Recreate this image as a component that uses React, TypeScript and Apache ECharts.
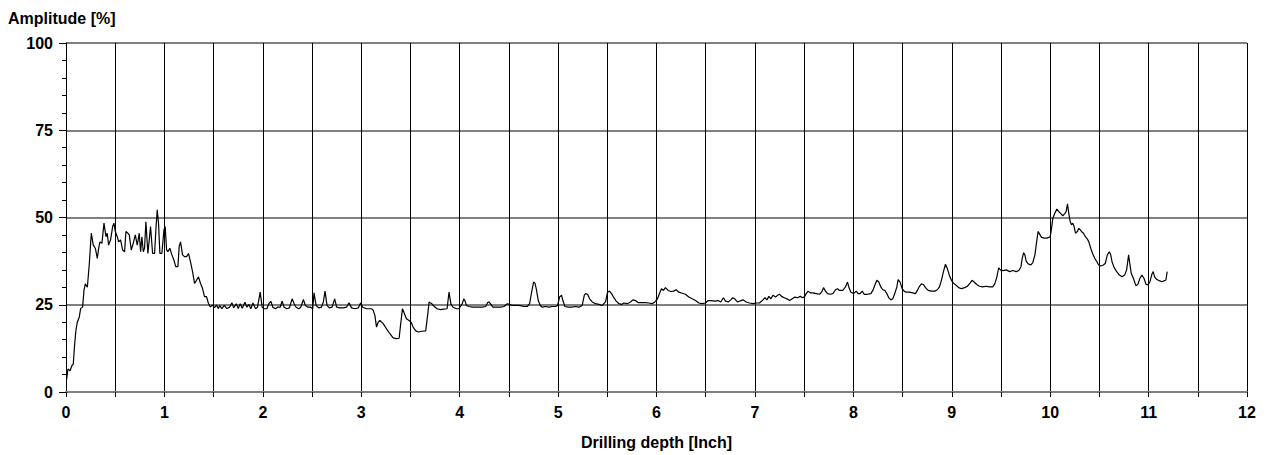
import React, { useEffect, useRef } from "react";
import * as echarts from "echarts";

// Amplitude [%] vs drilling depth [Inch]
const segStart: [number, number][] = [
  [0.007, 3.7], [0.02, 6.6], [0.041, 6.1], [0.061, 7.6], [0.074, 8.0], [0.088, 13.8], [0.101, 17.7], [0.115, 20.0],
  [0.135, 21.5], [0.149, 23.9], [0.169, 24.4], [0.183, 29.2], [0.196, 31.0], [0.217, 30.0], [0.237, 36.8], [0.257, 45.5],
  [0.277, 42.1], [0.298, 41.2], [0.318, 38.3], [0.332, 41.2], [0.345, 43.0], [0.365, 42.6], [0.386, 48.4], [0.406, 44.5],
  [0.419, 45.5], [0.433, 42.1], [0.453, 43.6], [0.474, 47.4], [0.487, 48.4], [0.501, 46.0], [0.521, 44.5], [0.535, 43.0],
  [0.555, 43.6], [0.575, 40.7], [0.595, 40.2], [0.609, 46.0], [0.629, 45.5], [0.643, 45.0], [0.663, 40.7], [0.683, 42.6],
  [0.704, 45.0], [0.724, 42.1], [0.744, 45.5], [0.758, 40.2], [0.771, 44.5], [0.785, 40.2], [0.798, 41.2], [0.812, 48.8],
  [0.832, 39.7], [0.846, 43.6], [0.859, 47.4], [0.88, 39.7], [0.9, 39.7], [0.913, 46.4], [0.927, 52.2], [0.94, 48.4],
  [0.954, 39.7], [0.974, 39.7], [0.995, 46.4], [1.008, 47.4], [1.022, 40.7], [1.035, 40.2], [1.055, 41.2], [1.076, 39.3],
  [1.096, 37.8], [1.116, 35.9], [1.137, 35.9], [1.15, 41.7], [1.164, 43.0], [1.184, 39.3], [1.204, 38.8], [1.225, 38.8],
  [1.245, 39.7], [1.265, 37.3], [1.286, 34.5], [1.306, 31.1], [1.326, 32.0], [1.346, 33.0], [1.367, 31.1], [1.387, 29.7],
  [1.407, 27.3], [1.428, 27.3], [1.448, 25.3], [1.468, 24.4], [1.488, 24.9], [1.509, 24.2], [1.529, 24.9], [1.549, 23.9],
];

const segPlateau: [number, number][] = [
  [1.561, 24.8], [1.584, 23.9], [1.608, 24.8], [1.635, 23.9], [1.662, 24.3], [1.686, 25.6], [1.703, 24.1], [1.73, 25.3],
  [1.75, 23.95], [1.77, 25.3], [1.791, 24.0], [1.818, 25.7], [1.838, 24.3], [1.858, 25.1], [1.878, 23.85], [1.899, 25.5],
  [1.926, 23.85], [1.946, 24.3], [1.973, 28.6], [1.993, 24.3], [2.014, 23.85], [2.041, 23.85], [2.061, 25.3], [2.081, 26.0],
  [2.101, 24.3], [2.128, 23.85], [2.149, 24.3], [2.176, 24.3], [2.196, 26.0], [2.216, 24.3], [2.243, 23.85], [2.27, 24.1],
  [2.297, 26.7], [2.318, 25.3], [2.338, 24.3], [2.365, 23.85], [2.385, 24.3], [2.412, 26.5], [2.432, 24.8], [2.459, 24.3],
  [2.486, 24.3], [2.507, 23.85], [2.52, 28.4], [2.541, 24.8], [2.568, 24.1], [2.595, 24.3], [2.615, 25.8], [2.632, 28.9],
  [2.652, 24.8], [2.676, 24.1], [2.703, 24.3], [2.73, 26.7], [2.75, 24.3], [2.784, 24.1], [2.818, 24.1], [2.851, 24.3],
  [2.875, 25.6], [2.902, 24.1], [2.936, 23.85], [2.97, 24.1], [2.993, 25.5], [3.014, 24.3], [3.054, 23.85], [3.105, 23.85],
  [3.122, 23.4], [3.139, 21.9], [3.155, 18.6], [3.172, 20.0], [3.189, 20.5], [3.223, 19.6], [3.257, 18.1], [3.291, 16.7],
  [3.324, 15.5], [3.358, 15.3], [3.385, 15.4], [3.399, 19.1], [3.419, 23.9], [3.439, 22.4], [3.459, 21.0], [3.486, 20.5],
  [3.507, 20.0], [3.527, 18.6], [3.554, 17.5], [3.581, 17.2], [3.615, 17.4], [3.655, 17.5], [3.676, 22.4], [3.689, 25.8],
  [3.716, 25.3], [3.743, 24.5], [3.77, 23.85], [3.804, 23.6], [3.838, 23.76], [3.872, 23.85], [3.892, 28.6], [3.912, 25.1],
  [3.932, 24.3], [3.966, 23.85], [3.993, 23.85],
];

const segMiddle: [number, number][] = [
  [4.007, 24.5], [4.027, 25.3], [4.041, 26.7], [4.054, 26.2], [4.068, 24.8], [4.095, 24.5], [4.129, 24.3], [4.162, 24.3],
  [4.196, 24.3], [4.23, 24.3], [4.264, 24.5], [4.284, 25.6], [4.298, 25.8], [4.318, 25.1], [4.338, 24.3], [4.372, 24.3],
  [4.416, 24.3], [4.45, 24.5], [4.484, 25.3], [4.508, 25.1], [4.535, 24.8], [4.569, 24.8], [4.602, 24.8], [4.653, 24.5],
  [4.687, 24.5], [4.711, 25.3], [4.731, 28.6], [4.751, 31.5], [4.765, 31.2], [4.778, 29.6], [4.799, 26.2], [4.819, 24.8],
  [4.839, 24.3], [4.873, 24.5], [4.907, 24.3], [4.941, 24.5], [4.975, 24.5], [4.995, 24.8], [5.015, 27.2], [5.036, 27.7],
  [5.049, 26.2], [5.069, 24.5], [5.103, 24.3], [5.137, 24.3], [5.178, 24.5], [5.212, 24.3], [5.245, 24.8], [5.266, 27.7],
  [5.279, 28.2], [5.3, 28.0], [5.32, 26.7], [5.347, 25.8], [5.381, 25.3], [5.415, 25.1], [5.448, 24.8], [5.482, 25.8],
  [5.503, 28.6], [5.523, 28.9], [5.543, 28.2], [5.563, 27.2], [5.591, 26.05], [5.618, 25.3], [5.645, 25.1], [5.668, 25.5],
  [5.702, 25.3], [5.736, 25.8], [5.76, 26.4], [5.787, 26.2], [5.814, 25.6], [5.848, 25.6], [5.888, 25.6], [5.922, 25.5],
  [5.956, 25.3], [5.983, 25.8], [6.01, 26.7], [6.03, 28.2], [6.051, 29.6], [6.071, 29.1], [6.091, 29.9], [6.118, 29.1],
  [6.146, 28.8], [6.173, 28.9], [6.2, 29.3], [6.227, 28.6], [6.261, 28.3], [6.294, 28.0], [6.328, 27.2], [6.362, 26.7],
  [6.396, 26.2], [6.43, 25.5], [6.464, 25.3], [6.497, 25.5], [6.525, 26.2], [6.558, 26.2], [6.592, 26.05], [6.626, 26.2],
  [6.653, 25.8], [6.68, 27.0], [6.701, 26.05], [6.728, 25.8], [6.755, 26.4], [6.775, 27.0], [6.795, 26.7], [6.822, 25.8],
];

const segRise: [number, number][] = [
  [6.878, 26.4], [6.912, 25.8], [6.946, 25.5], [6.98, 25.3], [7.014, 25.5], [7.047, 25.5], [7.081, 26.4], [7.102, 27.0],
  [7.122, 26.4], [7.142, 27.4], [7.162, 26.7], [7.183, 27.7], [7.21, 27.2], [7.23, 27.7], [7.25, 28.0], [7.271, 27.4],
  [7.298, 27.0], [7.325, 26.7], [7.352, 26.2], [7.379, 26.7], [7.406, 27.2], [7.433, 27.0], [7.46, 27.4], [7.487, 27.0],
  [7.508, 27.4], [7.521, 28.2], [7.541, 28.9], [7.562, 28.4], [7.589, 28.4], [7.623, 28.2], [7.657, 28.0], [7.677, 28.6],
  [7.697, 29.9], [7.717, 28.9], [7.738, 28.2], [7.765, 28.0], [7.792, 28.2], [7.819, 29.3], [7.839, 29.6], [7.86, 29.1],
  [7.893, 29.1], [7.92, 30.1], [7.941, 31.5], [7.954, 30.1], [7.975, 28.6], [8.002, 28.2], [8.029, 28.9], [8.049, 28.2],
  [8.069, 28.2], [8.09, 28.9], [8.11, 28.0], [8.144, 28.0], [8.178, 28.2], [8.198, 29.1], [8.218, 30.6], [8.239, 32.0],
  [8.259, 31.5], [8.279, 30.1], [8.299, 29.3], [8.32, 29.1], [8.34, 28.2], [8.36, 27.0], [8.381, 26.4], [8.401, 26.7],
  [8.421, 28.2], [8.442, 30.1], [8.455, 32.2], [8.475, 31.5], [8.496, 29.6], [8.516, 28.9], [8.536, 28.6], [8.57, 28.6],
  [8.604, 28.4], [8.631, 28.2], [8.651, 29.1], [8.672, 30.3], [8.692, 31.0], [8.712, 30.8], [8.733, 29.9], [8.76, 29.1],
  [8.794, 28.9], [8.827, 28.9], [8.854, 29.3], [8.875, 30.1], [8.895, 32.0], [8.915, 34.4], [8.936, 36.6], [8.956, 35.3],
  [8.976, 33.4], [8.997, 32.0], [9.017, 31.2], [9.044, 30.6], [9.071, 29.9], [9.098, 29.6], [9.132, 29.9], [9.159, 30.3],
  [9.186, 31.2], [9.206, 32.0], [9.227, 31.5], [9.254, 30.8], [9.281, 30.3], [9.315, 30.1], [9.349, 30.3], [9.382, 30.1],
  [9.416, 30.1], [9.437, 31.0], [9.457, 32.8], [9.477, 35.6], [9.497, 34.9],
];

const segPeak: [number, number][] = [
  [9.52, 34.8], [9.554, 35.0], [9.588, 34.5], [9.622, 34.8], [9.655, 34.5], [9.682, 34.8], [9.703, 35.9], [9.716, 38.3],
  [9.73, 39.9], [9.743, 39.3], [9.757, 37.4], [9.777, 36.7], [9.804, 36.4], [9.824, 37.1], [9.845, 39.3], [9.865, 43.6],
  [9.878, 46.0], [9.892, 45.3], [9.912, 44.3], [9.939, 44.1], [9.966, 44.1], [9.986, 44.3], [10.0, 44.5], [10.014, 46.9],
  [10.027, 49.8], [10.047, 51.2], [10.068, 52.4], [10.088, 51.7], [10.108, 51.1], [10.128, 50.5], [10.149, 51.1], [10.162, 51.7],
  [10.176, 53.9], [10.189, 51.2], [10.203, 48.9], [10.216, 47.9], [10.23, 48.4], [10.243, 47.4], [10.257, 45.5], [10.277, 46.0],
  [10.291, 46.9], [10.304, 46.5], [10.318, 46.0], [10.338, 45.5], [10.358, 44.5], [10.378, 43.8], [10.392, 43.1], [10.412, 41.2],
  [10.432, 39.6], [10.453, 38.3], [10.473, 37.4], [10.493, 36.4], [10.514, 36.1], [10.541, 36.4], [10.561, 36.9], [10.581, 39.3],
  [10.601, 40.2], [10.615, 39.3], [10.628, 37.4], [10.649, 35.7], [10.676, 34.5], [10.703, 33.5], [10.73, 33.0], [10.757, 33.5],
  [10.777, 35.0], [10.797, 39.3], [10.811, 36.4], [10.824, 34.0], [10.845, 32.6], [10.872, 30.4], [10.892, 30.9], [10.912, 32.6],
  [10.932, 33.5], [10.953, 32.6], [10.973, 30.9], [10.993, 30.7], [11.014, 31.6], [11.034, 33.8], [11.047, 34.5], [11.061, 33.0],
  [11.081, 32.3], [11.108, 31.9], [11.135, 31.6], [11.162, 31.9], [11.176, 32.1], [11.189, 34.5],
];

const xAxisTitle = "Drilling depth [Inch]";
const yAxisTitle = "Amplitude [%]";

const FONT = "'Liberation Sans', Arial, sans-serif";

export default function App() {
  const ref = useRef<HTMLDivElement>(null);

  useEffect(() => {
    if (!ref.current) return;
    const chart = echarts.init(ref.current, null, { renderer: "svg" });
    const data = [...segStart, ...segPlateau, ...segMiddle, ...segRise, ...segPeak];
    chart.setOption({
      animation: false,
      backgroundColor: "#ffffff",
      title: {
        text: yAxisTitle,
        left: 8,
        top: 10,
        padding: 0,
        textStyle: { fontFamily: FONT, fontSize: 16, fontWeight: "bold", color: "#000" },
      },
      grid: { left: 66, right: 24, top: 43, bottom: 63, containLabel: false },
      xAxis: {
        type: "value",
        min: 0,
        max: 12,
        interval: 0.5,
        name: xAxisTitle,
        nameLocation: "middle",
        nameGap: 42,
        nameTextStyle: { fontFamily: FONT, fontSize: 16, fontWeight: "bold", color: "#000" },
        axisLine: { show: true, lineStyle: { color: "#808080", width: 2 } },
        axisTick: { show: true, length: 5, lineStyle: { color: "#000", width: 1 } },
        axisLabel: {
          margin: 12,
          fontFamily: FONT,
          fontSize: 16,
          fontWeight: "bold",
          color: "#000",
          formatter: (v: number) => (Number.isInteger(v) ? String(v) : ""),
        },
        splitLine: { show: true, lineStyle: { color: "#000", width: 1 } },
      },
      yAxis: {
        type: "value",
        min: 0,
        max: 100,
        interval: 25,
        axisLine: { show: true, lineStyle: { color: "#000", width: 1 } },
        axisTick: { show: true, length: 7, lineStyle: { color: "#000", width: 1 } },
        minorTick: { show: true, splitNumber: 5, length: 4, lineStyle: { color: "#000", width: 1 } },
        axisLabel: {
          margin: 13,
          fontFamily: FONT,
          fontSize: 16,
          fontWeight: "bold",
          color: "#000",
        },
        splitLine: { show: true, lineStyle: { color: "#808080", width: 2 } },
      },
      series: [
        {
          type: "line",
          data,
          showSymbol: false,
          symbol: "none",
          lineStyle: { color: "#000", width: 1.2 },
          z: 5,
        },
      ],
    });
    return () => chart.dispose();
  }, []);

  return (
    <div
      ref={ref}
      style={{ position: "fixed", left: 0, top: 0, width: 1271, height: 455, background: "#fff" }}
    />
  );
}
